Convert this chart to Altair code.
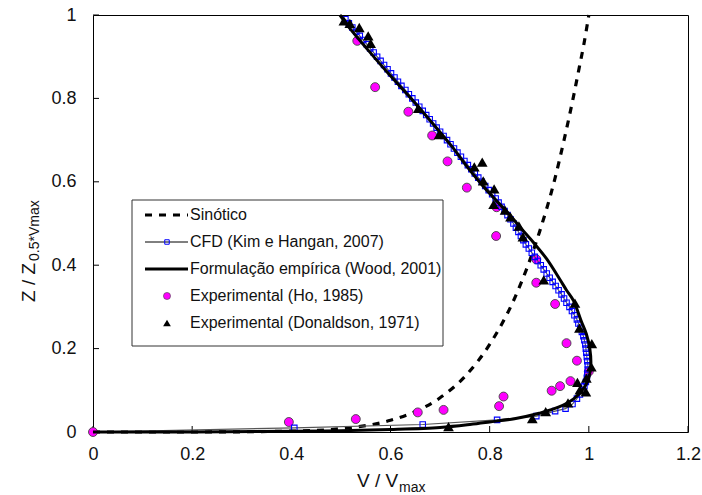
import altair as alt
import pandas as pd

# ---------------- data ----------------
# Sinótico (dashed)
syn_x = [0.0, 0.2, 0.4, 0.5, 0.6, 0.65, 0.7, 0.75, 0.8, 0.85, 0.9, 0.93, 0.95, 0.97, 0.98, 0.99, 1.0]
syn_y = [0.0, 0.0, 0.002, 0.008, 0.028, 0.049, 0.082, 0.133, 0.21, 0.32, 0.478, 0.60, 0.70, 0.81, 0.87, 0.93, 1.0]

# Formulação empírica (Wood, 2001)
wood_x = [0.0, 0.2, 0.4, 0.5, 0.6, 0.7, 0.76, 0.8, 0.85, 0.9, 0.94, 0.97, 0.99, 1.0, 1.004, 1.002,
          0.995, 0.985, 0.969, 0.955, 0.942, 0.915, 0.89, 0.868, 0.837, 0.79, 0.752, 0.725, 0.685,
          0.645, 0.594, 0.554, 0.52, 0.498]
wood_y = [0.0, 0.0, 0.002, 0.003, 0.006, 0.011, 0.018, 0.024, 0.032, 0.045, 0.06, 0.08, 0.105, 0.13, 0.16, 0.2,
          0.235, 0.265, 0.315, 0.34, 0.365, 0.415, 0.452, 0.482, 0.525, 0.585, 0.64, 0.683, 0.74,
          0.795, 0.862, 0.917, 0.965, 1.0]

# CFD (Kim e Hangan, 2007)
cfd_x = [0.509, 0.516, 0.523, 0.531, 0.538, 0.545, 0.552, 0.559, 0.566, 0.573,
         0.580, 0.587, 0.594, 0.601, 0.608, 0.615, 0.622, 0.630, 0.637, 0.644,
         0.651, 0.658, 0.665, 0.672, 0.679, 0.686, 0.693, 0.700, 0.707, 0.714,
         0.721, 0.728, 0.735, 0.742, 0.749, 0.756, 0.763, 0.770, 0.777, 0.784,
         0.791, 0.798, 0.805, 0.812, 0.818, 0.824, 0.830, 0.836, 0.842, 0.848,
         0.853, 0.858, 0.863, 0.868, 0.873, 0.879, 0.885, 0.891, 0.897, 0.903,
         0.909, 0.915, 0.921, 0.927, 0.933, 0.939, 0.945, 0.950, 0.955, 0.961,
         0.966, 0.971, 0.976, 0.979, 0.983, 0.986, 0.989, 0.991, 0.993, 0.994,
         0.995, 0.996, 0.997, 0.998, 0.998, 0.997, 0.996, 0.994, 0.991, 0.987,
         0.982, 0.976,
         0.967, 0.953, 0.932, 0.894, 0.815, 0.665, 0.406, 0.0]
cfd_y = [0.99, 0.98, 0.97, 0.96, 0.95, 0.94, 0.93, 0.92, 0.91, 0.90,
         0.89, 0.88, 0.87, 0.86, 0.85, 0.84, 0.83, 0.82, 0.81, 0.80,
         0.79, 0.78, 0.77, 0.76, 0.75, 0.74, 0.73, 0.72, 0.71, 0.70,
         0.69, 0.68, 0.67, 0.66, 0.65, 0.64, 0.63, 0.62, 0.61, 0.60,
         0.59, 0.58, 0.57, 0.56, 0.55, 0.54, 0.53, 0.52, 0.51, 0.50,
         0.49, 0.48, 0.47, 0.46, 0.45, 0.44, 0.43, 0.42, 0.41, 0.40,
         0.39, 0.38, 0.37, 0.36, 0.35, 0.34, 0.33, 0.32, 0.31, 0.30,
         0.29, 0.28, 0.27, 0.26, 0.25, 0.24, 0.23, 0.22, 0.21, 0.20,
         0.19, 0.18, 0.17, 0.16, 0.15, 0.14, 0.13, 0.12, 0.11, 0.10,
         0.09, 0.08,
         0.067, 0.056, 0.050, 0.038, 0.029, 0.018, 0.010, 0.0]

# Experimental (Ho, 1985)
ho_x = [0.0, 0.395, 0.530, 0.655, 0.707, 0.819, 0.828, 0.925, 0.942, 0.963, 1.0, 0.976, 0.955,
        0.932, 0.894, 0.894, 0.813, 0.814, 0.754, 0.715, 0.684, 0.636, 0.569, 0.533]
ho_y = [0.0, 0.024, 0.031, 0.047, 0.053, 0.062, 0.085, 0.099, 0.110, 0.122, 0.145, 0.171, 0.213,
        0.307, 0.358, 0.414, 0.470, 0.539, 0.586, 0.649, 0.711, 0.768, 0.827, 0.938]

# Experimental (Donaldson, 1971)
don_x = [0.506, 0.518, 0.537, 0.555, 0.560, 0.656, 0.698, 0.769, 0.785, 0.787, 0.809, 0.808, 0.831,
         0.842, 0.859, 0.867, 0.909, 0.972, 0.981, 1.006, 1.005, 0.995, 0.977, 0.994, 0.982, 0.958,
         0.913, 0.886, 0.717]
don_y = [0.986, 0.980, 0.970, 0.950, 0.932, 0.776, 0.713, 0.636, 0.647, 0.602, 0.583, 0.546, 0.532,
         0.516, 0.494, 0.468, 0.365, 0.309, 0.249, 0.212, 0.156, 0.129, 0.119, 0.096, 0.101, 0.070,
         0.049, 0.032, 0.013]

x_ticks = [0, 0.2, 0.4, 0.6, 0.8, 1.0, 1.2]
y_ticks = [0, 0.2, 0.4, 0.6, 0.8, 1.0]

legend_labels = ["Sinótico", "CFD (Kim e Hangan, 2007)", "Formulação empírica (Wood, 2001)",
                 "Experimental (Ho, 1985)", "Experimental (Donaldson, 1971)"]


def frame(xs, ys):
    return pd.DataFrame({"x": xs, "y": ys, "i": list(range(len(xs)))})


W, H = 595, 417
FONT = "Liberation Sans"

xscale = alt.Scale(domain=[0, 1.2], nice=False, zero=False)
yscale = alt.Scale(domain=[0, 1], nice=False, zero=False)
xaxis = alt.Axis(values=x_ticks, format="~g", title=None, grid=False, domain=False, ticks=False,
                 labelFlush=False, labelPadding=13, labelFontSize=18, labelFont=FONT,
                 labelColor="#111111", labelOverlap=False)
yaxis = alt.Axis(values=y_ticks, format="~g", title=None, grid=False, domain=False, ticks=False,
                 labelFlush=False, labelPadding=17, labelFontSize=18, labelFont=FONT,
                 labelColor="#111111", labelOverlap=False)
X = alt.X("x:Q", scale=xscale, axis=xaxis)
Y = alt.Y("y:Q", scale=yscale, axis=yaxis)

layers = []

# inward ticks
layers.append(alt.Chart(pd.DataFrame({"x": x_ticks})).mark_rule(color="black", strokeWidth=1).encode(
    x=X, y=alt.value(H), y2=alt.value(H - 6)))
layers.append(alt.Chart(pd.DataFrame({"y": y_ticks})).mark_rule(color="black", strokeWidth=1).encode(
    y=Y, x=alt.value(0), x2=alt.value(6)))

# Sinótico
layers.append(alt.Chart(frame(syn_x, syn_y)).mark_line(
    color="black", strokeWidth=3.2, strokeDash=[7, 7], interpolate="monotone").encode(
    x=X, y=Y, order="i:Q"))

# Ho circles
layers.append(alt.Chart(frame(ho_x, ho_y)).mark_point(
    shape="circle", filled=True, fill="#ff00ff", stroke="#444444", strokeWidth=0.9,
    size=80, opacity=1).encode(x=X, y=Y))

# CFD line + squares
cfd = frame(cfd_x, cfd_y)
layers.append(alt.Chart(cfd).mark_line(color="#555555", strokeWidth=1.1).encode(
    x=X, y=Y, order="i:Q"))
layers.append(alt.Chart(cfd).transform_filter("datum.x > 0").mark_point(
    shape="square", filled=False, color="#0000ff", size=30, strokeWidth=1.1, opacity=1).encode(
    x=X, y=Y))

# Wood
layers.append(alt.Chart(frame(wood_x, wood_y)).mark_line(
    color="black", strokeWidth=3, interpolate="catmull-rom").encode(x=X, y=Y, order="i:Q"))

# Donaldson triangles
layers.append(alt.Chart(frame(don_x, don_y)).mark_point(
    shape="triangle-up", filled=True, color="black", size=115, opacity=1).encode(x=X, y=Y))

# ---------------- legend (drawn by hand) ----------------
one = pd.DataFrame({"a": [0]})
LX0, LX1, LY0, LY1 = 39, 350, 185, 331
rows = [200 + 27 * k for k in range(5)]
SX0, SX1, SXC, TX = 52, 95, 74, 97

layers.append(alt.Chart(one).mark_rect(fill="white", stroke="#333333", strokeWidth=1).encode(
    x=alt.value(LX0), x2=alt.value(LX1), y=alt.value(LY0), y2=alt.value(LY1)))
layers.append(alt.Chart(one).mark_rule(color="black", strokeWidth=3.2, strokeDash=[7, 7]).encode(
    x=alt.value(SX0), x2=alt.value(SX1), y=alt.value(rows[0])))
layers.append(alt.Chart(one).mark_rule(color="black", strokeWidth=1).encode(
    x=alt.value(SX0), x2=alt.value(SX1), y=alt.value(rows[1])))
layers.append(alt.Chart(one).mark_point(shape="square", filled=False, color="#0000ff", size=20,
                                        strokeWidth=1, opacity=1).encode(
    x=alt.value(SXC), y=alt.value(rows[1])))
layers.append(alt.Chart(one).mark_rule(color="black", strokeWidth=3).encode(
    x=alt.value(SX0), x2=alt.value(SX1), y=alt.value(rows[2])))
layers.append(alt.Chart(one).mark_point(shape="circle", filled=True, fill="#ff00ff", stroke="#444444",
                                        strokeWidth=0.6, size=50, opacity=1).encode(
    x=alt.value(SXC), y=alt.value(rows[3])))
layers.append(alt.Chart(one).mark_point(shape="triangle-up", filled=True, color="black", size=60,
                                        opacity=1).encode(
    x=alt.value(SXC), y=alt.value(rows[4])))
for k, lab in enumerate(legend_labels):
    layers.append(alt.Chart(one).mark_text(align="left", baseline="middle", fontSize=16, font=FONT,
                                           color="#111111").encode(
        x=alt.value(TX), y=alt.value(rows[k]), text=alt.value(lab)))

# ---------------- axis titles with subscripts ----------------
layers.append(alt.Chart(one).mark_text(align="left", baseline="alphabetic", fontSize=19, font=FONT,
                                       color="#111111").encode(
    x=alt.value(264), y=alt.value(472), text=alt.value("V / V")))
layers.append(alt.Chart(one).mark_text(align="left", baseline="alphabetic", fontSize=14, font=FONT,
                                       color="#111111").encode(
    x=alt.value(306), y=alt.value(477), text=alt.value("max")))
layers.append(alt.Chart(one).mark_text(align="left", baseline="alphabetic", fontSize=19, font=FONT,
                                       color="#111111", angle=270).encode(
    x=alt.value(-58), y=alt.value(287), text=alt.value("Z / Z")))
layers.append(alt.Chart(one).mark_text(align="left", baseline="alphabetic", fontSize=14, font=FONT,
                                       color="#111111", angle=270).encode(
    x=alt.value(-54), y=alt.value(246), text=alt.value("0.5*Vmax")))

chart = alt.layer(*layers).properties(
    width=W, height=H,
    padding={"left": 93, "top": 15, "right": 14, "bottom": 63},
    autosize=alt.AutoSizeParams(type="none"),
    background="white",
).configure_view(stroke="black", strokeWidth=1)

chart.save("out.html", embed_options={"renderer": "svg", "actions": False})
